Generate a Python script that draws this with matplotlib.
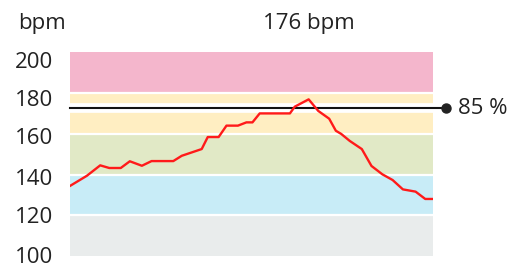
import matplotlib
matplotlib.use("Agg")
import matplotlib.pyplot as plt
from matplotlib.transforms import ScaledTranslation, blended_transform_factory

# heart rate over the session (minutes, bpm)
minutes = [0, 2.8, 5.0, 6.5, 8.4, 9.9, 11.9, 13.5, 17.1, 18.5, 21.8, 22.8, 24.6,
           25.9, 27.8, 29.2, 30.2, 31.4, 36.4, 37.2, 39.5, 41.1, 42.9, 44.0, 44.9,
           46.3, 48.3, 49.9, 51.7, 53.4, 55.1, 57.2, 58.8, 60]
bpm = [134.4, 139.4, 144.5, 143.2, 143.2, 146.5, 144.3, 146.6, 146.6, 149.2, 152.5,
       158.4, 158.4, 164, 164, 165.6, 165.6, 170, 170, 173.3, 176.9, 171.2, 167.4,
       161.5, 159.9, 156.5, 152.5, 144.2, 140.1, 137.3, 132.7, 131.6, 128, 128]

zone_edges = [100, 120, 140, 160, 180, 200]
zone_colors = ["#e9ecec", "#c8ecf7", "#e1e9c6", "#ffeec2", "#f4b6cc"]
threshold = 172.5
threshold_label = "85 %"
peak_label = "176 bpm"
yticks = [100, 120, 140, 160, 180, 200]
# small vertical nudges of the tick labels, in pixels (down is positive)
label_nudge = [-1, 0, 2, 2.7, 5.3, 7.7]

FS = 16
plt.rcParams['font.family'] = ['Open Sans', 'DejaVu Sans']

fig = plt.figure(figsize=(5.19, 2.77), dpi=100)
ax = fig.add_axes([70 / 519, 1 - 256 / 277, 362.5 / 519, (256 - 52.3) / 277])

for lo, hi, c in zip(zone_edges[:-1], zone_edges[1:], zone_colors):
    ax.axhspan(lo, hi, color=c, lw=0, zorder=1)
for e in zone_edges[1:-1]:
    ax.axhline(e, color="white", lw=1.6, zorder=2)

# threshold line with white halo, extending past the plot to a dot
ax.plot([0, 62.2], [threshold, threshold], color="white", lw=7, zorder=3,
        solid_capstyle="butt", clip_on=False)
ax.plot([0, 62.2], [threshold, threshold], color="#111111", lw=1.5, zorder=4,
        clip_on=False)
ax.plot([62.2], [threshold], "o", color="#222222", ms=6.5, zorder=5, clip_on=False)
ax.text(64.2, threshold, threshold_label, fontsize=FS, va="center", ha="left",
        color="#222222")

ax.plot(minutes, bpm, color="#ff1a1a", lw=1.7, zorder=6)

peak_i = bpm.index(max(bpm))
title_tr = blended_transform_factory(ax.transData, fig.transFigure)
ax.text(minutes[peak_i], 1 - 29.3 / 277, peak_label, transform=title_tr,
        fontsize=FS, ha="center", va="baseline", color="#222222")
fig.text(18 / 519, 1 - 29.3 / 277, "bpm", fontsize=FS, ha="left", va="baseline",
         color="#222222")

ax.set_xlim(0, 60)
ax.set_ylim(100, 200)
ax.set_xticks([])
ax.set_yticks(yticks)
ax.tick_params(axis="y", length=0, pad=12, labelsize=FS, labelcolor="#222222")
for spine in ax.spines.values():
    spine.set_visible(False)

fig.canvas.draw()
for lbl, dy in zip(ax.get_yticklabels(), label_nudge):
    lbl.set_transform(lbl.get_transform() + ScaledTranslation(0, -dy / 100, fig.dpi_scale_trans))

fig.savefig("out.png", dpi=100)
